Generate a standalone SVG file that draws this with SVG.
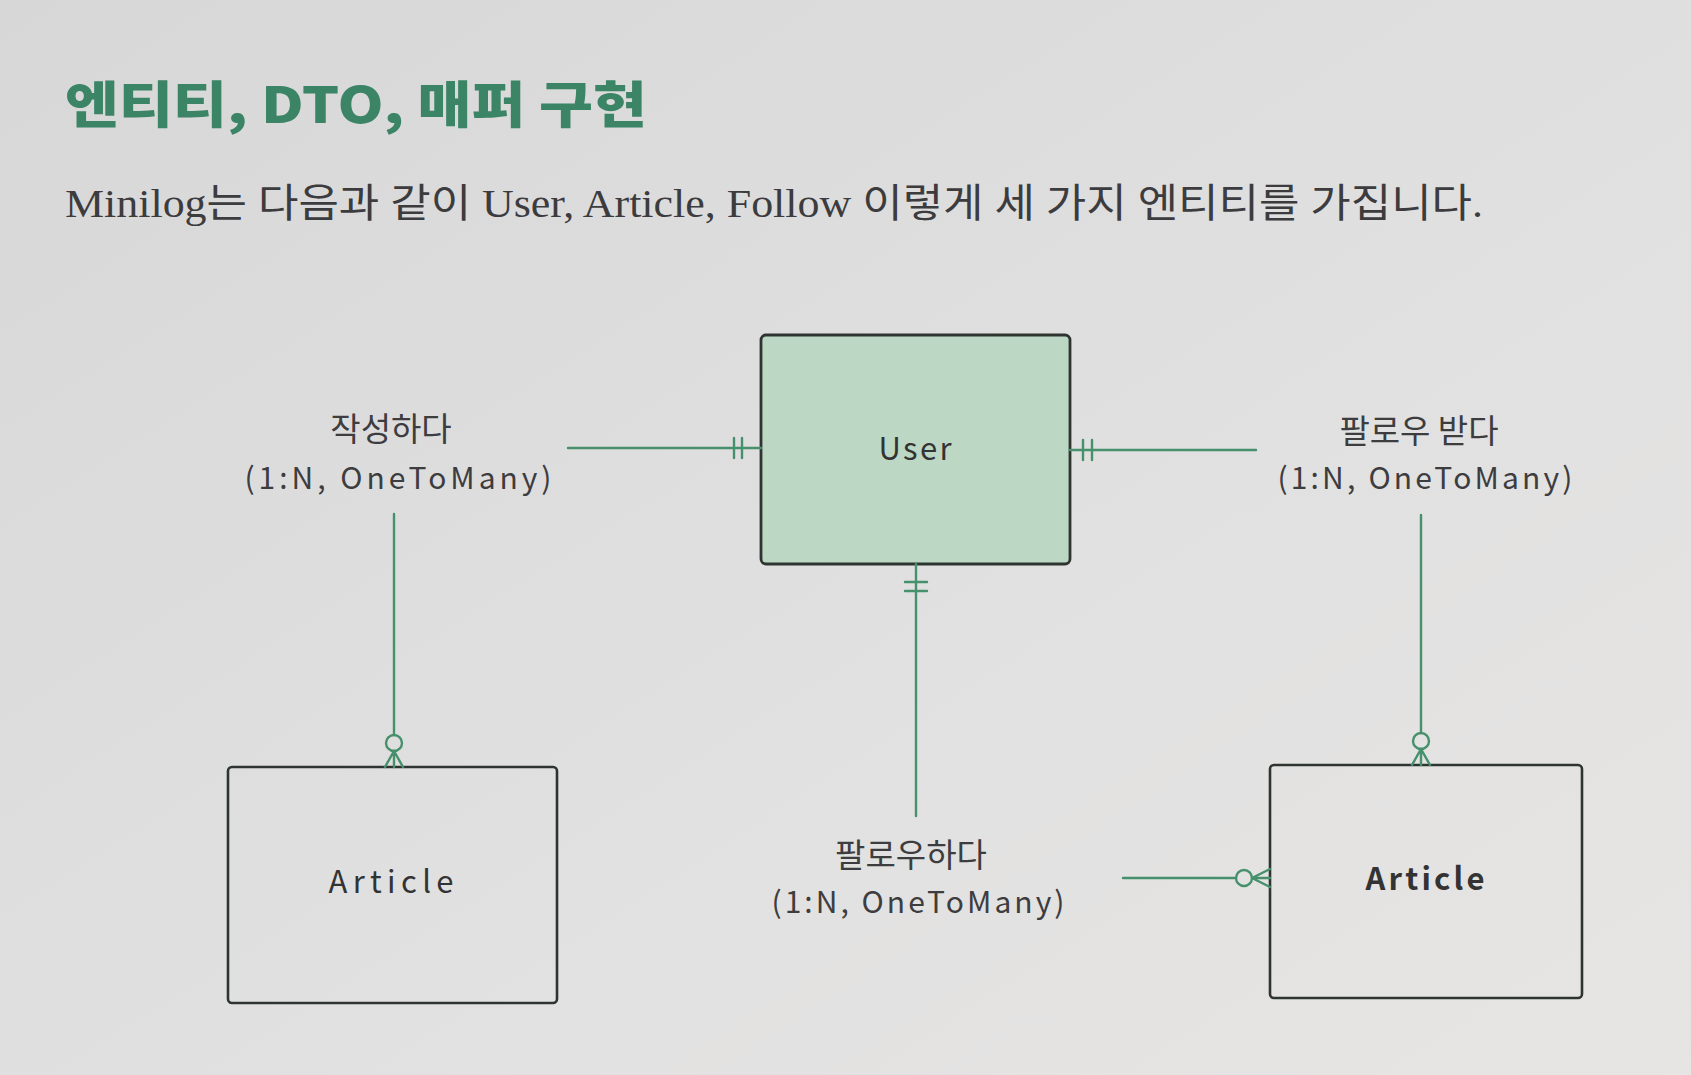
<svg xmlns="http://www.w3.org/2000/svg" width="1691" height="1075" viewBox="0 0 1691 1075">
<defs>
<linearGradient id="bg" x1="0" y1="0" x2="1" y2="1">
<stop offset="0" stop-color="#d8d7d8"/>
<stop offset="0.6" stop-color="#e2e1e1"/>
<stop offset="1" stop-color="#e6e5e4"/>
</linearGradient>
<style>
.title{font-family:"Noto Sans CJK KR","Noto Sans",sans-serif;font-weight:900;font-size:50px;fill:#3b8466}
.sub{font-family:"Liberation Serif","Noto Sans CJK KR",serif;font-size:40px;fill:#3c3c3e}
.lbl{font-family:"Noto Sans CJK KR","Noto Sans",sans-serif;font-size:33px;fill:#3d3d3f;text-anchor:middle}
.par{font-family:"Noto Sans CJK KR","Noto Sans",sans-serif;font-size:30px;fill:#3d3d3f;text-anchor:middle}
.ent{font-family:"Noto Sans CJK KR","Noto Sans",sans-serif;font-size:31px;fill:#333;text-anchor:middle}
.box{fill:none;stroke:#2e3530;stroke-width:2.6}
.ubox{fill:#bcd8c4;stroke:#2e3530;stroke-width:2.8}
.cn{fill:none;stroke:#46906c;stroke-width:2.4;stroke-linecap:round}
</style>
</defs>
<rect width="1691" height="1075" fill="url(#bg)"/>
<text class="title" x="65" y="123" textLength="582" lengthAdjust="spacingAndGlyphs">엔티티, DTO, 매퍼 구현</text>
<text class="sub" x="65" y="217" textLength="1418" lengthAdjust="spacingAndGlyphs">Minilog는 다음과 같이 User, Article, Follow 이렇게 세 가지 엔티티를 가집니다.</text>

<g id="user">
<rect class="ubox" x="761" y="335" width="309" height="229" rx="5"/>
<text class="ent" x="915" y="460" textLength="73">User</text>
</g>
<g id="article-left">
<rect class="box" x="228" y="767" width="329" height="236" rx="4"/>
<text class="ent" x="391" y="893" textLength="125">Article</text>
</g>
<g id="article-right">
<rect class="box" x="1270" y="765" width="312" height="233" rx="4"/>
<text class="ent" x="1425" y="890" font-weight="bold" textLength="119">Article</text>
</g>

<g id="labels">
<text class="lbl" x="391" y="441">작성하다</text>
<text class="par" x="398" y="489" textLength="307">(1:N, OneToMany)</text>
<text class="lbl" x="1419" y="443">팔로우 받다</text>
<text class="par" x="1425" y="489" textLength="295">(1:N, OneToMany)</text>
<text class="lbl" x="911" y="867">팔로우하다</text>
<text class="par" x="918" y="913" textLength="293">(1:N, OneToMany)</text>
</g>

<g id="connectors">
<path class="cn" d="M568 448 H761 M734 438 V458 M742 438 V458"/>
<path class="cn" d="M394 514 V735"/>
<circle class="cn" cx="394" cy="743" r="8"/>
<path class="cn" d="M394 751 L385 767 M394 751 V767 M394 751 L403 767"/>
<path class="cn" d="M1070 450 H1256 M1083 440 V460 M1092 440 V460"/>
<path class="cn" d="M1421 515 V733"/>
<circle class="cn" cx="1421" cy="741" r="8"/>
<path class="cn" d="M1421 749 L1412 765 M1421 749 V765 M1421 749 L1430 765"/>
<path class="cn" d="M916 564 V816 M905 582 H927 M905 591 H927"/>
<path class="cn" d="M1123 878 H1236"/>
<circle class="cn" cx="1244" cy="878" r="8"/>
<path class="cn" d="M1252 878 L1270 869 M1252 878 H1270 M1252 878 L1270 887"/>
</g>
</svg>
